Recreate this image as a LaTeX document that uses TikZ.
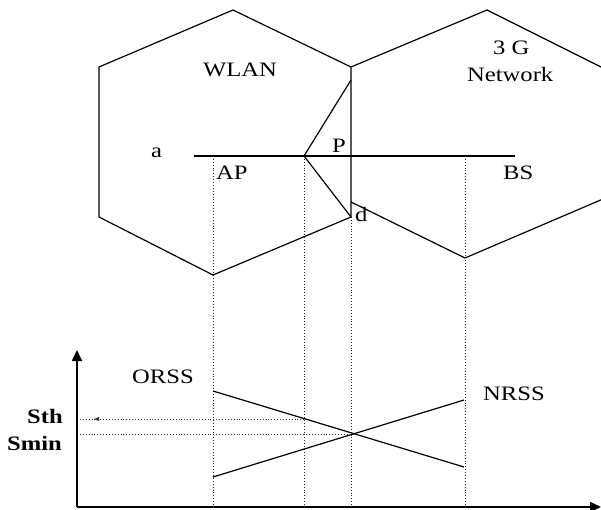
\documentclass[tikz,border=0pt]{standalone}
\usepackage{fontspec}
\setmainfont[FakeStretch=1.2]{Liberation Serif}
\usetikzlibrary{arrows.meta}
\begin{document}
\begin{tikzpicture}[x=1pt,y=-1pt,
  edge/.style={line width=1.2pt,line join=miter},
  guide/.style={line width=0.9pt,dotted,black!85},
  axis/.style={line width=1.7pt,-{Triangle[length=11pt,width=10pt]}},
  lbl/.style={anchor=base west,inner sep=0pt,font=\fontsize{20.5}{24}\selectfont},
  blbl/.style={lbl,font=\fontsize{20.5}{24}\selectfont\bfseries}]
\useasboundingbox (0,0) rectangle (601,510);
% cells
\draw[edge] (233,10) -- (351,67) -- (351,217) -- (213,275) -- (99,217) -- (99,67) -- cycle;
\draw[edge] (351,67) -- (487,10) -- (603,68);
\draw[edge] (351,202) -- (465,258) -- (603,199);
% key points
\coordinate (a) at (194,156);
\coordinate (AP) at (213,156);
\coordinate (P) at (304,156);
\coordinate (BS) at (465,156);
\coordinate (end) at (515,156);
\coordinate (up) at (351,80);
\coordinate (d) at (351,217);
\draw[edge] (a) -- (end);
\draw[edge] (up) -- (P) -- (d);
% axes
\coordinate (O) at (77,507);
\coordinate (ytip) at (77,350);
\coordinate (xtip) at (601,507);
\draw[axis] (O) -- (ytip);
\draw[axis] (O) -- (xtip);
% projections
\draw[guide] (AP) -- (AP |- O);
\draw[guide] (P) -- (P |- O);
\draw[guide] (d) -- (d |- O);
\draw[guide] (BS) -- (BS |- O);
% signal strength curves
\coordinate (o1) at (213,391);
\coordinate (o2) at (464,467);
\coordinate (n1) at (213,477);
\coordinate (n2) at (464,400);
\coordinate (x) at (354,434);
\draw[edge] (o1) -- (o2);
\draw[edge] (n1) -- (n2);
\coordinate (sth) at (77,419);
\coordinate (smin) at (77,434);
\draw[guide] (sth) -- (304,419);
\draw[guide] (smin) -- (x);
\fill[black!80] (94,419) -- (99,417) -- (99,421) -- cycle;
% labels
\node[lbl] (wlan) at (203,77) {WLAN};
\node[lbl] (g3) at (493,55) {3 G};
\node[lbl] (net) at (467,82) {Network};
\node[lbl] (la) at (151,158) {a};
\node[lbl] (lp) at (332,153) {P};
\node[lbl] (lap) at (216,180) {AP};
\node[lbl] (lbs) at (503,180) {BS};
\node[lbl] (ld) at (355,222) {d};
\node[lbl] (orss) at (132,383) {ORSS};
\node[lbl] (nrss) at (483,400) {NRSS};
\node[blbl] (lsth) at (27,423) {Sth};
\node[blbl] (lsmin) at (7,450) {Smin};
\end{tikzpicture}
\end{document}
